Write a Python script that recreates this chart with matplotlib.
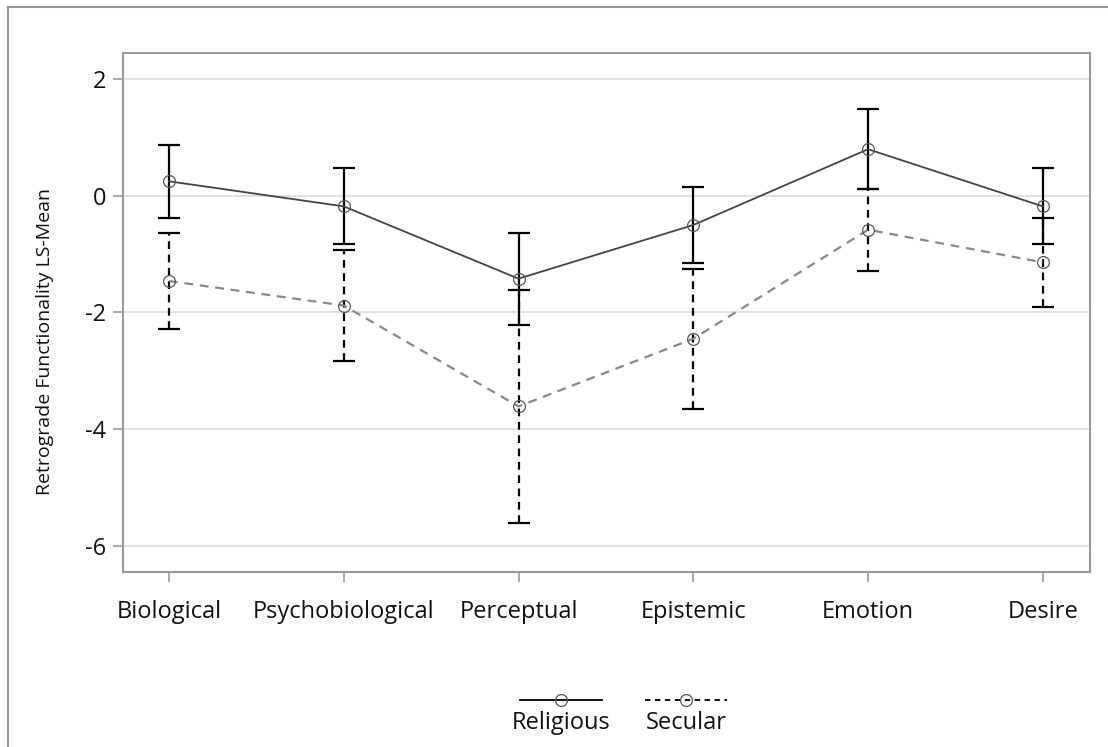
import numpy as np
import matplotlib
matplotlib.use("Agg")
import matplotlib.pyplot as plt
from matplotlib.lines import Line2D
from matplotlib.patches import Rectangle

plt.rcParams['font.family'] = ['Open Sans', 'DejaVu Sans']

# data
categories = ['Biological', 'Psychobiological', 'Perceptual', 'Epistemic', 'Emotion', 'Desire']
religious_mean = [0.25, -0.18, -1.42, -0.50, 0.80, -0.18]
religious_err = [0.63, 0.65, 0.79, 0.65, 0.69, 0.65]
secular_mean = [-1.46, -1.88, -3.61, -2.45, -0.58, -1.14]
secular_err = [0.83, 0.95, 2.00, 1.20, 0.70, 0.76]
y_ticks = [-6, -4, -2, 0, 2]

W, H = 1108, 747
fig = plt.figure(figsize=(W / 100, H / 100), dpi=100)
# axes box in pixels: left 123, right 1090, top 53, bottom 572
ax = fig.add_axes([123 / W, 1 - 572 / H, (1090 - 123) / W, (572 - 53) / H])

x = np.arange(len(categories))

# secular first, religious on top
eb = ax.errorbar(x, secular_mean, yerr=secular_err, fmt='none', ecolor='black',
                 elinewidth=1.6, capsize=8, capthick=1.6, zorder=2)
eb[2][0].set_linestyle((0, (3.5, 2.5)))
ax.plot(x, secular_mean, color='#888888', linestyle=(0, (4, 3)), linewidth=1.6,
        marker='o', markersize=8.5, markerfacecolor='none', markeredgecolor='#555555',
        markeredgewidth=0.9, zorder=3)

ax.errorbar(x, religious_mean, yerr=religious_err, fmt='none', ecolor='black',
            elinewidth=1.6, capsize=8, capthick=1.6, zorder=4)
ax.plot(x, religious_mean, color='#444444', linestyle='-', linewidth=1.3,
        marker='o', markersize=8.5, markerfacecolor='none', markeredgecolor='#555555',
        markeredgewidth=0.9, zorder=5)

ax.set_xlim(-0.263, 5.27)
ax.set_ylim(-6.45, 2.45)
ax.set_yticks(y_ticks)
ax.set_yticklabels([str(v) for v in y_ticks])
ax.set_xticks(x)
ax.set_xticklabels(categories)
ax.yaxis.grid(True, color='#dcdcdc', linewidth=1.2)
ax.set_axisbelow(True)
for s in ax.spines.values():
    s.set_color('#999999')
    s.set_linewidth(1.5)
ax.tick_params(axis='both', direction='out', length=7, width=1.2, color='#999999',
               labelsize=17, labelcolor='#111111')
ax.tick_params(axis='x', pad=13)
ax.tick_params(axis='y', pad=5)

fig.text(45 / W, 1 - 342 / H, 'Retrograde Functionality LS-Mean', rotation=90,
         ha='center', va='center', fontsize=14, color='#111111')

# outer frame
fig.add_artist(Rectangle((8 / W, -0.1), 1.2, 1 - 7 / H + 0.1, transform=fig.transFigure,
                         fill=False, edgecolor='#999999', linewidth=1.5))

# legend: handle above label
def legend_item(xc, label, ls):
    y = 1 - 700 / H
    ln = Line2D([(xc - 41) / W, xc / W, (xc + 41) / W], [y, y, y], transform=fig.transFigure,
                color='black', linestyle=ls, linewidth=1.3, marker='o', markevery=[1],
                markersize=8.5, markerfacecolor='none', markeredgecolor='#555555',
                markeredgewidth=0.9)
    fig.add_artist(ln)
    fig.text(xc / W, 1 - 723 / H, label, ha='center', va='center', fontsize=17,
             color='#111111')

legend_item(561, 'Religious', '-')
legend_item(686, 'Secular', (0, (3, 2.5)))

fig.savefig('out.png', dpi=100, facecolor='white')
